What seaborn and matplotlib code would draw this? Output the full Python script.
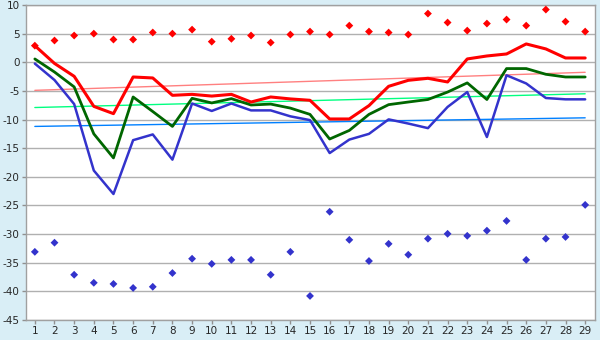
import numpy as np
import pandas as pd
import seaborn as sns
import matplotlib.pyplot as plt

sns.set_style("white")
plt.rcParams['font.family'] = ['DejaVu Sans']
plt.rcParams['axes.unicode_minus'] = False

days = list(range(1, 30))

red_line = [2.9, -0.2, -2.45, -7.7, -8.97, -2.57, -2.74, -5.77, -5.6, -5.9,
            -5.6, -6.94, -6.06, -6.4, -6.64, -9.9, -9.9, -7.57, -4.2, -3.15,
            -2.8, -3.44, 0.58, 1.1, 1.45, 3.2, 2.33, 0.75, 0.75]
green_line = [0.58, -1.7, -4.3, -12.5, -16.7, -6.06, -8.6, -11.2, -6.3, -7.1,
              -6.35, -7.46, -7.3, -8.0, -9.1, -13.4, -11.9, -9.1, -7.4, -6.94,
              -6.5, -5.2, -3.6, -6.5, -1.1, -1.1, -2.1, -2.57, -2.57]
blue_line = [-0.23, -3.1, -7.3, -18.9, -23.0, -13.6, -12.6, -17.0, -7.2, -8.5,
             -7.2, -8.4, -8.4, -9.44, -10.1, -15.85, -13.5, -12.5, -9.97, -10.7,
             -11.5, -7.8, -5.2, -13.05, -2.27, -3.7, -6.24, -6.47, -6.47]
red_points = [2.9, 3.8, 4.67, 5.0, 3.97, 3.97, 5.2, 5.0, 5.7, 3.6,
              4.1, 4.67, 3.44, 4.84, 5.36, 4.84, 6.4, 5.36, 5.19, 4.84,
              8.5, 6.94, 5.53, 6.76, 7.46, 6.4, 9.2, 7.1, 5.36]
blue_points = [-33.1, -31.5, -37.1, -38.5, -38.7, -39.4, -39.2, -36.8, -34.3, -35.2,
               -34.5, -34.5, -37.1, -33.1, -40.8, -26.1, -31.0, -34.7, -31.7, -33.6,
               -30.8, -29.95, -30.3, -29.4, -27.7, -34.5, -30.8, -30.5, -24.9]

# trend lines, start and end value (day 1 and day 29)
trend_days = [1, 29]
red_trend = [-4.9, -1.75]
green_trend = [-7.9, -5.5]
blue_trend = [-11.2, -9.7]

df = pd.DataFrame({"day": days, "red": red_line, "green": green_line,
                   "blue": blue_line, "red_pts": red_points, "blue_pts": blue_points})

bg = "#d9eef6"
fig = plt.figure(figsize=(6, 3.4), dpi=100, facecolor=bg)
ax = fig.add_axes([26 / 600, 20 / 340, 569 / 600, 315 / 340])
ax.set_facecolor("white")

sns.lineplot(x=trend_days, y=red_trend, color="#ff8080", lw=1, ax=ax, zorder=2)
sns.lineplot(x=trend_days, y=green_trend, color="#00ff80", lw=1, ax=ax, zorder=2)
sns.lineplot(x=trend_days, y=blue_trend, color="#0080ff", lw=1, ax=ax, zorder=2)

sns.lineplot(data=df, x="day", y="red", color="#ff0000", lw=2.2, ax=ax, zorder=5)
sns.lineplot(data=df, x="day", y="green", color="#006600", lw=2.0, ax=ax, zorder=4)
sns.lineplot(data=df, x="day", y="blue", color="#3333cc", lw=1.8, ax=ax, zorder=3)
sns.scatterplot(data=df, x="day", y="red_pts", color="#ff0000", marker="D", s=16,
                edgecolor="none", ax=ax, zorder=6)
sns.scatterplot(data=df, x="day", y="blue_pts", color="#3333cc", marker="D", s=16,
                edgecolor="none", ax=ax, zorder=6)

ax.set_xlim(0.55, 29.5)
ax.set_ylim(-45, 10)
ax.set_xticks(days)
ax.set_yticks(range(-45, 11, 5))
ax.yaxis.grid(True, color="#b0b0b0", lw=1)
ax.set_axisbelow(True)
ax.set_xlabel("")
ax.set_ylabel("")
ax.tick_params(axis="both", labelsize=7.5, length=3, width=1, color="#909090", pad=1.5,
               direction="out", bottom=True, left=True)
for s in ax.spines.values():
    s.set_color("#a0a0a0")
    s.set_linewidth(1)

fig.savefig("out.png", dpi=100, facecolor=bg)
